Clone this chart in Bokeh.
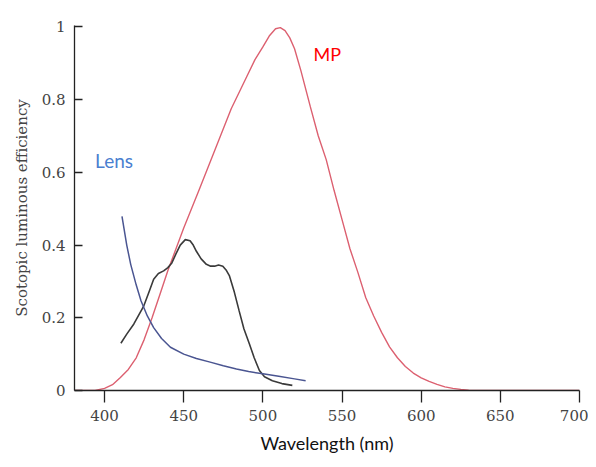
from bokeh.plotting import figure
from bokeh.models import Range1d, FixedTicker, Label, Title
from bokeh.embed import file_html
from bokeh.resources import INLINE

# Red curve (MP)
mp_nm = [381, 394, 400, 405, 410, 415, 420, 425, 430, 435, 440, 450, 460, 470, 480,
         490, 495, 500, 504, 508, 511, 514, 517, 520, 524, 530, 535, 540, 545, 550, 555,
         560, 565, 570, 575, 580, 585, 590, 595, 600, 605, 610, 615, 620, 625, 630, 650, 700]
mp_val = [0, 0, 0.006, 0.016, 0.036, 0.058, 0.09, 0.14, 0.20, 0.265, 0.33, 0.447, 0.555,
          0.665, 0.775, 0.865, 0.91, 0.945, 0.975, 0.995, 0.998, 0.99, 0.97, 0.94, 0.88,
          0.78, 0.70, 0.635, 0.55, 0.47, 0.39, 0.325, 0.255, 0.205, 0.16, 0.12, 0.09,
          0.066, 0.048, 0.035, 0.025, 0.017, 0.01, 0.006, 0.003, 0.001, 0, 0]

# Black curve
blk_nm = [410.3, 414, 418.5, 424.8, 428, 431, 434, 437.3, 440, 442.5, 445, 447.8, 451,
          454, 456, 458, 461, 464.3, 467, 469.5, 472, 474.7, 477, 478.9, 482, 485, 488,
          491.5, 494.5, 497.8, 501, 506, 512, 518.6]
blk_val = [0.13, 0.155, 0.183, 0.233, 0.27, 0.306, 0.322, 0.329, 0.338, 0.351, 0.375,
           0.40, 0.415, 0.412, 0.40, 0.383, 0.362, 0.347, 0.342, 0.342, 0.345, 0.342,
           0.33, 0.315, 0.27, 0.219, 0.17, 0.128, 0.09, 0.055, 0.038, 0.027, 0.019, 0.014]

# Blue curve (Lens)
lens_nm = [411, 414, 416.5, 420, 423, 427, 431, 436, 441.6, 450, 458, 466.7, 475, 483.3,
           491, 500, 510, 520, 527]
lens_val = [0.479, 0.40, 0.347, 0.29, 0.247, 0.205, 0.173, 0.143, 0.119, 0.10, 0.088,
            0.078, 0.068, 0.059, 0.052, 0.046, 0.039, 0.032, 0.027]

x_ticks = [400, 450, 500, 550, 600, 650, 700]
y_ticks = [0, 0.2, 0.4, 0.6, 0.8, 1]
y_tick_labels = {0: "0", 0.2: "0.2", 0.4: "0.4", 0.6: "0.6", 0.8: "0.8", 1: "1"}

p = figure(width=588, height=459, output_backend="svg", toolbar_location=None,
           x_range=Range1d(381, 700), y_range=Range1d(0, 1.004),
           min_border_left=74, min_border_right=9, min_border_top=25,
           min_border_bottom=69)
p.outline_line_color = None
p.xgrid.visible = False
p.ygrid.visible = False
p.background_fill_color = "white"

p.line(mp_nm, mp_val, line_color="#dc6070", line_width=1.4)
p.line(blk_nm, blk_val, line_color="#3a3a3a", line_width=1.6)
p.line(lens_nm, lens_val, line_color="#4a5591", line_width=1.5)

for ax in (p.xaxis[0], p.yaxis[0]):
    ax.axis_line_color = "#222222"
    ax.axis_line_width = 1.3
    ax.major_tick_line_color = "#222222"
    ax.major_tick_line_width = 1.3
    ax.minor_tick_line_color = None
    ax.major_label_text_font = "DejaVu Serif"
    ax.major_label_text_font_size = "15px"
    ax.major_label_text_color = "#444444"

p.xaxis[0].ticker = FixedTicker(ticks=x_ticks)
p.xaxis[0].major_tick_in = 0
p.xaxis[0].major_tick_out = 12
p.xaxis[0].major_label_standoff = 7

p.yaxis[0].ticker = FixedTicker(ticks=y_ticks)
p.yaxis[0].major_label_overrides = y_tick_labels
p.yaxis[0].major_tick_in = 8
p.yaxis[0].major_tick_out = 0
p.yaxis[0].major_label_standoff = 9
p.yaxis[0].axis_label = "Scotopic luminous efficiency"
p.yaxis[0].axis_label_text_font = "DejaVu Serif"
p.yaxis[0].axis_label_text_font_size = "15px"
p.yaxis[0].axis_label_text_font_style = "normal"
p.yaxis[0].axis_label_text_color = "#444444"
p.yaxis[0].axis_label_standoff = 8

p.add_layout(Title(text="Wavelength (nm)", align="center", offset=-15,
                   text_font="Lato", text_font_size="18px", text_font_style="normal",
                   text_color="#111111", standoff=12), "below")
p.add_layout(Label(x=394, y=0.633, text="Lens", text_font="Lato",
                   text_font_size="19px", text_color="#4a7fd0",
                   text_align="left", text_baseline="middle"))
p.add_layout(Label(x=532, y=0.925, text="MP", text_font="Lato",
                   text_font_size="18px", text_color="#ff0000",
                   text_align="left", text_baseline="middle"))

open("out.html", "w").write(file_html(p, INLINE))
